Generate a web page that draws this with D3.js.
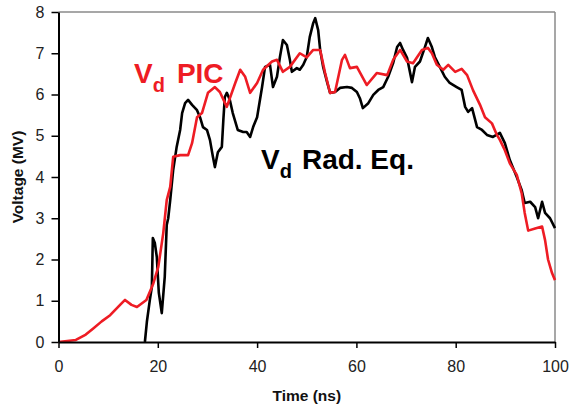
<!DOCTYPE html>
<html><head><meta charset="utf-8">
<script src="https://cdn.jsdelivr.net/npm/d3@7"></script>
<style>
body{margin:0;background:#fff;}
text{font-family:"Liberation Sans",Arial,sans-serif;}
</style>
</head><body>
<svg id="c" width="569" height="407"></svg>
<script>
const xTicks = [0, 20, 40, 60, 80, 100];
const yTicks = [0, 1, 2, 3, 4, 5, 6, 7, 8];

const picT = [0,3.5,5.5,7,8.7,10.4,12.4,13.4,14.7,15.8,17.7,19.1,20.1,21.1,21.8,22.5,23.1,24.5,26.1,26.9,27.9,28.9,30.1,31.5,32.5,33.9,35.6,36.6,37.6,38.6,40,41.2,43,44,45.2,46.6,48.6,50,51.3,52.7,53.7,54.7,55.7,57.1,57.7,58.7,60.1,62.1,64.1,66.2,67.4,68.8,70.2,71.4,73.2,74.4,75.2,76.2,77.5,78.5,79.9,81.2,82.3,83.5,84.9,85.9,87.3,88.3,88.9,89.9,90.9,92.3,93.3,93.9,94.6,96,97.4,98,98.6,99.4,100];
const picV = [0,0.05,0.18,0.33,0.5,0.65,0.9,1.02,0.9,0.85,1.02,1.42,1.82,2.64,3.44,3.76,4.49,4.53,4.53,4.82,5.45,5.55,6.04,6.18,6.06,5.7,6.28,6.6,6.43,6.04,6.28,6.6,6.8,6.84,6.55,6.67,7.0,6.9,7.08,7.08,6.52,6.04,6.06,6.84,6.96,6.64,6.67,6.23,6.52,6.47,6.84,7.08,6.8,6.76,7.08,7.13,7.0,6.72,6.6,6.72,6.55,6.62,6.47,6.1,5.75,5.45,5.3,5.02,4.9,4.65,4.33,4.05,3.6,3.13,2.7,2.75,2.8,2.47,2.0,1.67,1.5];

const radT = [17.4,17.8,18.4,18.8,19.0,19.4,19.8,20.2,20.8,21.4,21.8,22.1,22.5,23.1,23.8,24.5,24.9,25.5,26.1,26.9,27.9,28.5,29.1,29.9,30.5,31.1,31.5,32.1,32.9,33.2,33.5,33.9,34.5,35.1,36.1,37.2,37.9,38.6,39.2,40.0,41.0,41.6,42.6,43.2,44.0,44.6,45.2,46.0,46.6,47.0,48.0,48.6,49.3,50.0,50.6,51.3,51.7,52.3,52.7,53.3,54.1,54.7,55.7,56.7,58.1,59.1,60.1,60.7,61.3,62.4,63.4,64.4,65.4,66.4,67.4,68.2,68.8,69.4,70.2,71.2,71.8,72.8,73.8,74.4,75.2,75.8,76.8,77.8,78.8,80.2,81.2,81.9,82.5,83.3,84.3,85.3,86.3,87.5,88.9,89.9,90.9,92.3,93.3,93.9,95.0,96.0,96.6,97.4,98.0,99.0,100];
const radV = [0,0.49,1.02,1.33,2.52,2.4,2.06,1.2,0.7,1.58,2.84,3.0,3.44,4.17,4.73,5.14,5.55,5.79,5.87,5.75,5.62,5.45,5.21,5.14,4.9,4.49,4.24,4.6,4.73,5.38,5.94,6.04,5.87,5.55,5.14,5.09,5.09,4.97,5.21,5.45,6.18,6.67,6.72,6.18,6.43,6.91,7.32,7.2,6.84,6.55,6.64,6.6,6.72,6.91,7.39,7.73,7.85,7.56,7.08,6.67,6.3,6.04,6.06,6.16,6.18,6.16,6.06,5.91,5.67,5.79,5.99,6.11,6.18,6.43,6.76,7.15,7.25,7.08,6.89,6.3,6.67,6.8,7.15,7.37,7.15,6.91,6.67,6.43,6.28,6.18,6.11,5.7,5.58,5.67,5.21,5.14,5.02,4.97,5.07,4.82,4.41,4.0,3.68,3.37,3.4,3.27,3.0,3.4,3.13,3.0,2.76];

const svg = d3.select("#c");
const L = 58.5, R = 555, T = 12, B = 342;
const x = d3.scaleLinear().domain([0, 100]).range([L, R]);
const y = d3.scaleLinear().domain([0, 8]).range([B, T]);

// frame (top/right grey)
svg.append("line").attr("x1", L).attr("x2", R).attr("y1", T).attr("y2", T).attr("stroke", "#8a8a8a").attr("stroke-width", 1.5);
svg.append("line").attr("x1", R).attr("x2", R).attr("y1", T).attr("y2", B).attr("stroke", "#8a8a8a").attr("stroke-width", 1.5);

const line = d3.line().x(d => x(d[0])).y(d => y(d[1]));

svg.append("path").datum(d3.zip(radT, radV)).attr("d", line)
  .attr("fill", "none").attr("stroke", "#000").attr("stroke-width", 2.6).attr("stroke-linejoin", "round");
svg.append("path").datum(d3.zip(picT, picV)).attr("d", line)
  .attr("fill", "none").attr("stroke", "#ee1c24").attr("stroke-width", 2.6).attr("stroke-linejoin", "round");

// axes
const xa = svg.append("g").attr("transform", `translate(0,${B})`)
  .call(d3.axisBottom(x).tickValues(xTicks).tickSize(6).tickSizeOuter(0).tickPadding(13));
const ya = svg.append("g").attr("transform", `translate(${L},0)`)
  .call(d3.axisLeft(y).tickValues(yTicks).tickSize(7).tickSizeOuter(0).tickPadding(7));
[xa, ya].forEach(g => {
  g.select(".domain").attr("stroke", "#000").attr("stroke-width", 2);
  g.selectAll(".tick line").attr("stroke", "#000").attr("stroke-width", 1.5);
  g.selectAll(".tick text").attr("font-size", 16).attr("fill", "#222")
    .attr("font-family", "'Liberation Sans', Arial, sans-serif");
});

// axis titles
svg.append("text").attr("x", (L + R) / 2).attr("y", 401).attr("text-anchor", "middle")
  .attr("font-size", 15.5).attr("font-weight", "bold").attr("fill", "#111").text("Time (ns)");
svg.append("text").attr("transform", `translate(23,${(T + B) / 2}) rotate(-90)`).attr("text-anchor", "middle")
  .attr("font-size", 15.5).attr("font-weight", "bold").attr("fill", "#111").text("Voltage (MV)");

// annotations
const pic = svg.append("text").attr("x", 134).attr("y", 83).attr("font-size", 28).attr("font-weight", "bold").attr("fill", "#ee1c24");
pic.append("tspan").text("V");
pic.append("tspan").attr("font-size", 20).attr("dy", 9).text("d");
pic.append("tspan").attr("dy", -9).attr("dx", 12).text("PIC");

const rad = svg.append("text").attr("x", 261).attr("y", 169).attr("font-size", 28).attr("font-weight", "bold").attr("fill", "#000");
rad.append("tspan").text("V");
rad.append("tspan").attr("font-size", 20).attr("dy", 9).text("d");
rad.append("tspan").attr("dy", -9).attr("dx", 10).text("Rad. Eq.");
</script>
</body></html>
